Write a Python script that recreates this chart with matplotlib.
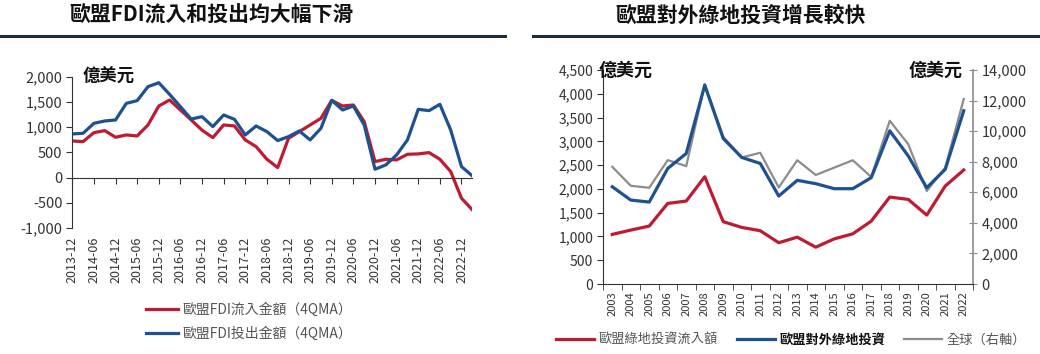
import matplotlib
matplotlib.use("Agg")
import matplotlib.pyplot as plt
from matplotlib.lines import Line2D
import numpy as np

plt.rcParams['font.family'] = ['Noto Sans CJK TC', 'DejaVu Sans']

# ---------------- data: left chart (quarterly, 4QMA, 億美元) ----------------
quarters = ['2013-12', '2014-03', '2014-06', '2014-09', '2014-12', '2015-03', '2015-06', '2015-09',
            '2015-12', '2016-03', '2016-06', '2016-09', '2016-12', '2017-03', '2017-06', '2017-09',
            '2017-12', '2018-03', '2018-06', '2018-09', '2018-12', '2019-03', '2019-06', '2019-09',
            '2019-12', '2020-03', '2020-06', '2020-09', '2020-12', '2021-03', '2021-06', '2021-09',
            '2021-12', '2022-03', '2022-06', '2022-09', '2022-12', '2023-03']
fdi_in = [726, 713, 891, 931, 799, 845, 825, 1043, 1419, 1538, 1340, 1142, 940, 792, 1043, 1023,
          746, 614, 363, 198, 779, 911, 1043, 1175, 1530, 1419, 1439, 1109, 317, 363, 350, 462,
          469, 495, 363, 119, -409, -640]
fdi_out = [865, 878, 1076, 1122, 1142, 1472, 1525, 1802, 1881, 1650, 1406, 1160, 1208, 1010, 1241, 1155,
           845, 1023, 911, 733, 812, 924, 746, 977, 1530, 1340, 1419, 1043, 165, 251, 449, 746,
           1353, 1327, 1452, 944, 218, 33]
label_in_left = '歐盟FDI流入金額（4QMA）'
label_out_left = '歐盟FDI投出金額（4QMA）'

# ---------------- data: right chart (annual, 億美元) ----------------
years = ['2003', '2004', '2005', '2006', '2007', '2008', '2009', '2010', '2011', '2012',
         '2013', '2014', '2015', '2016', '2017', '2018', '2019', '2020', '2021', '2022']
eu_green_in = [1043, 1134, 1218, 1695, 1744, 2255, 1310, 1190, 1120, 868,
               985, 774, 949, 1055, 1322, 1828, 1779, 1449, 2060, 2398]
eu_green_out = [2045, 1765, 1723, 2430, 2745, 4181, 3060, 2661, 2535, 1849,
                2180, 2110, 2004, 2004, 2236, 3221, 2693, 2025, 2412, 3643]
world_green = [7669, 6427, 6296, 8105, 7712, 13072, 9630, 8279, 8584, 6318,
               8096, 7133, 7615, 8096, 7002, 10678, 9147, 6083, 7615, 12101]
label_r1 = '歐盟綠地投資流入額'
label_r2 = '歐盟對外綠地投資'
label_r3 = '全球（右軸）'

RED = '#C01A33'
BLUE = '#1D5190'
GRAY = '#8C8C8C'
TXT = '#333333'

fig = plt.figure(figsize=(10.4, 3.54), dpi=100)

# titles and rules
fig.text(212 / 1040, 1 - 15 / 354, '歐盟FDI流入和投出均大幅下滑', ha='center', va='center',
         fontsize=15, fontweight='heavy', color='#111111')
fig.text(741 / 1040, 1 - 15 / 354, '歐盟對外綠地投資增長較快', ha='center', va='center',
         fontsize=15, fontweight='heavy', color='#111111')
fig.add_artist(Line2D([0, 505 / 1040], [1 - 36 / 354] * 2, transform=fig.transFigure,
                      color='#1c2b3c', lw=2.2))
fig.add_artist(Line2D([533 / 1040, 1], [1 - 36 / 354] * 2, transform=fig.transFigure,
                      color='#1c2b3c', lw=2.2))

fmt = matplotlib.ticker.FuncFormatter(lambda v, p: f'{int(v):,}')

# ---------------- left chart ----------------
ax1 = fig.add_axes([72.3 / 1040, 1 - 228 / 354, 400 / 1040, 151.3 / 354])
xq = np.arange(len(quarters))
l1, = ax1.plot(xq, fdi_in, color=RED, lw=2.3, solid_joinstyle='round')
l2, = ax1.plot(xq, fdi_out, color=BLUE, lw=2.3, solid_joinstyle='round')
ax1.set_xlim(0, len(quarters) - 1)
ax1.set_ylim(-1000, 2000)
ax1.set_yticks(np.arange(-1000, 2001, 500))
ax1.yaxis.set_major_formatter(fmt)
ax1.tick_params(axis='y', direction='out', length=4, labelsize=10.5, colors=TXT, pad=3)
for s in ['top', 'right']:
    ax1.spines[s].set_visible(False)
ax1.spines['left'].set_color('#333333')
ax1.spines['bottom'].set_position(('data', 0))
ax1.spines['bottom'].set_color('#333333')
ax1.set_xticks(xq[::2])
ax1.set_xticklabels([])
ax1.tick_params(axis='x', direction='out', length=4, colors='#333333')
sec = ax1.secondary_xaxis(0)
sec.set_xticks(xq[::2])
sec.set_xticklabels(quarters[::2], rotation=90, fontsize=9, color=TXT)
sec.tick_params(length=0, pad=6)
sec.spines['bottom'].set_visible(False)
ax1.text(0.025, 1.0, '億美元', transform=ax1.transAxes, ha='left', va='center',
         fontsize=12.5, fontweight='bold', color='#111111')

leg1 = fig.legend([l1, l2], [label_in_left, label_out_left], loc='center left',
                  bbox_to_anchor=(146 / 1040, 1 - 322 / 354), frameon=False, fontsize=10,
                  handlelength=2.3, handletextpad=0.3, labelspacing=0.7,
                  borderpad=0, borderaxespad=0)
for t in leg1.get_texts():
    t.set_color('#555555')

# ---------------- right chart ----------------
ax2 = fig.add_axes([603 / 1040, 1 - 284 / 354, 370 / 1040, 214 / 354])
ax3 = ax2.twinx()
xy = np.arange(len(years))
r1, = ax2.plot(xy, eu_green_in, color=RED, lw=2.3, solid_joinstyle='round')
r2, = ax2.plot(xy, eu_green_out, color=BLUE, lw=2.3, solid_joinstyle='round')
r3, = ax3.plot(xy, world_green, color=GRAY, lw=1.6, solid_joinstyle='round')
ax2.set_zorder(ax3.get_zorder() + 1)
ax2.patch.set_visible(False)
ax2.set_xlim(-0.5, len(years) - 0.5)
ax2.set_ylim(0, 4500)
ax3.set_ylim(0, 14000)
ax2.set_yticks(np.arange(0, 4501, 500))
ax3.set_yticks(np.arange(0, 14001, 2000))
ax2.yaxis.set_major_formatter(fmt)
ax3.yaxis.set_major_formatter(fmt)
ax2.set_xticks(xy)
ax2.set_xticklabels(years, rotation=90, fontsize=8, color=TXT)
ax2.set_xticks(np.arange(-0.5, len(years), 1.0), minor=True)
ax2.tick_params(axis='x', which='major', length=0, pad=5)
ax2.tick_params(axis='x', which='minor', length=4, direction='out', color='#333333')
ax2.tick_params(axis='y', direction='out', length=4, labelsize=10, colors=TXT, pad=3)
ax3.tick_params(axis='y', direction='inout', length=6, labelsize=10.5, colors=TXT, pad=3)
ax3.tick_params(axis='y', color=GRAY)
for a in (ax2, ax3):
    a.spines['top'].set_visible(False)
ax2.spines['right'].set_visible(False)
ax3.spines['left'].set_visible(False)
ax3.spines['bottom'].set_visible(False)
ax3.spines['right'].set_color(GRAY)
ax3.spines['right'].set_linewidth(1.2)
ax2.spines['left'].set_color('#333333')
ax2.spines['bottom'].set_color('#333333')
ax2.text(-0.013, 1.0, '億美元', transform=ax2.transAxes, ha='left', va='center',
         fontsize=13, fontweight='bold', color='#111111')
ax2.text(0.973, 1.0, '億美元', transform=ax2.transAxes, ha='right', va='center',
         fontsize=13, fontweight='bold', color='#111111')

leg2 = fig.legend([r1, r2, r3], [label_r1, label_r2, label_r3], loc='center left',
                  bbox_to_anchor=(556 / 1040, 1 - 340 / 354), frameon=False, fontsize=9.5, ncol=3,
                  handlelength=2.9, handletextpad=0.35, columnspacing=1.4,
                  borderpad=0, borderaxespad=0)
for i, t in enumerate(leg2.get_texts()):
    t.set_color('#555555')
leg2.get_texts()[1].set_fontweight('bold')
leg2.get_texts()[1].set_color('#111111')

fig.savefig('out.png', dpi=100)
